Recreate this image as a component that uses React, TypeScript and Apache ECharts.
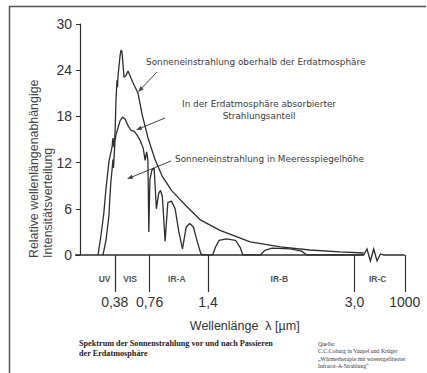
import React, { useEffect, useRef } from "react";
import * as echarts from "echarts";

// Extraterrestrial spectrum (oberhalb der Erdatmosphäre): wavelength [µm] / relative intensity
const topLambda = [0.197, 0.23, 0.26, 0.284, 0.317, 0.35, 0.36, 0.37, 0.383, 0.393, 0.404, 0.41, 0.415, 0.437, 0.448, 0.459, 0.481, 0.503, 0.525, 0.557, 0.59, 0.634, 0.68, 0.743, 0.82, 0.9, 1.0, 1.15, 1.31, 1.53, 1.86, 2.19, 2.51, 2.84, 3.1];
const topValues = [0, 2.6, 5.4, 8.6, 12.2, 14.0, 15.2, 14.0, 15.8, 20.0, 22.7, 21.8, 23.2, 25.8, 26.6, 26.4, 23.1, 23.3, 23.9, 23.0, 22.1, 21.0, 18.2, 15.2, 12.4, 10.2, 8.4, 6.5, 4.6, 3.2, 1.7, 1.05, 0.65, 0.4, 0.26];

// Sea-level spectrum (in Meeresspiegelhöhe)
const seaLambda = [0.251, 0.284, 0.317, 0.328, 0.339, 0.35, 0.36, 0.366, 0.383, 0.393, 0.415, 0.437, 0.464, 0.49, 0.525, 0.557, 0.59, 0.623, 0.656, 0.69, 0.712, 0.728, 0.742, 0.752, 0.764, 0.785, 0.81, 0.835, 0.86, 0.88, 0.9, 0.93, 0.96, 1.0, 1.04, 1.08, 1.12, 1.16, 1.2, 1.24, 1.28, 1.32, 1.34, 1.45, 1.48, 1.52, 1.6, 1.7, 1.75, 1.78, 1.97, 2.02, 2.1, 2.3, 2.42, 2.48, 3.1];
const seaValues = [0, 1.9, 5.2, 7.8, 9.7, 11.0, 12.4, 11.3, 14.9, 15.6, 16.5, 17.4, 17.9, 17.7, 16.8, 16.2, 16.1, 15.6, 14.9, 13.9, 12.3, 13.4, 12.4, 3.0, 9.8, 11.0, 11.3, 6.0, 8.0, 8.4, 7.6, 1.8, 6.8, 7.0, 6.0, 3.0, 0.8, 3.6, 4.1, 3.6, 1.8, 0.2, 0, 0, 1.0, 1.9, 2.1, 1.9, 1.0, 0, 0, 0.6, 0.9, 0.8, 0.5, 0, 0];

// X axis ticks (wavelength boundaries) and labels; last one sits after the axis break
const tickValues = [0.38, 0.76, 1.4, 3.0, 3.55];
const tickLabels = ["0,38", "0,76", "1,4", "3,0", "1000"];

// Spectral bands
const bandEdges = [0.2, 0.38, 0.76, 1.4, 3.0, 3.55];
const bandNames = ["UV", "VIS", "IR-A", "IR-B", "IR-C"];

// Y axis
const yMin = 0;
const yMax = 30;
const yInterval = 6;

const INK = "#2e2e2e";

function arrow(x1: number, y1: number, x2: number, y2: number) {
  const dx = x2 - x1;
  const dy = y2 - y1;
  const len = Math.sqrt(dx * dx + dy * dy);
  const ux = dx / len;
  const uy = dy / len;
  const nx = -uy;
  const ny = ux;
  const L = 6;
  const W = 2.2;
  return [
    {
      type: "line",
      shape: { x1, y1, x2: x2 - ux * 3, y2: y2 - uy * 3 },
      style: { stroke: "#444", lineWidth: 1 },
      silent: true,
    },
    {
      type: "polygon",
      shape: {
        points: [
          [x2, y2],
          [x2 - ux * L + nx * W, y2 - uy * L + ny * W],
          [x2 - ux * L - nx * W, y2 - uy * L - ny * W],
        ],
      },
      style: { fill: "#444" },
      silent: true,
    },
  ];
}

export default function App() {
  const ref = useRef<HTMLDivElement>(null);

  useEffect(() => {
    if (!ref.current) return;
    const chart = echarts.init(ref.current, undefined, { renderer: "svg" });

    const topData = topLambda.map((l, i) => [l, topValues[i]]);
    const seaData = seaLambda.map((l, i) => [l, seaValues[i]]);

    const labelFor = (v: number) => {
      let best = 0;
      for (let i = 1; i < tickValues.length; i++) {
        if (Math.abs(tickValues[i] - v) < Math.abs(tickValues[best] - v)) best = i;
      }
      return tickLabels[best];
    };

    const sans = "'Liberation Sans', Arial, sans-serif";
    const wide = "'DejaVu Sans', Verdana, sans-serif";
    const serif = "'Liberation Serif', 'Times New Roman', serif";

    chart.setOption({
      animation: false,
      backgroundColor: "#ffffff",
      grid: { left: 80, top: 24, right: 17.6, bottom: 118, containLabel: false },
      xAxis: {
        type: "value",
        min: 0,
        max: 3.6,
        axisLine: { show: false },
        splitLine: { show: false },
        axisTick: {
          show: true,
          customValues: tickValues,
          length: 37,
          lineStyle: { color: INK, width: 1.2 },
        },
        axisLabel: {
          show: true,
          customValues: tickValues,
          formatter: (v: number) => labelFor(v),
          margin: 40,
          fontSize: 14,
          color: "#333",
          fontFamily: sans,
        },
        name: "Wellenlänge  λ [µm]",
        nameLocation: "middle",
        nameGap: 64,
        nameTextStyle: { fontSize: 12.5, color: "#333", fontFamily: sans },
      },
      yAxis: {
        type: "value",
        min: yMin,
        max: yMax,
        interval: yInterval,
        axisLine: { show: true, lineStyle: { color: INK, width: 1.2 } },
        axisTick: { show: true, length: 4, lineStyle: { color: INK, width: 1 } },
        axisLabel: {
          margin: 8,
          fontSize: 14,
          color: "#333",
          fontFamily: sans,
        },
        splitLine: { show: false },
      },
      series: [
        {
          name: "Sonneneinstrahlung oberhalb der Erdatmosphäre",
          type: "line",
          data: topData,
          showSymbol: false,
          smooth: false,
          lineStyle: { color: INK, width: 1.3 },
          z: 3,
        },
        {
          name: "Sonneneinstrahlung in Meeresspiegelhöhe",
          type: "line",
          data: seaData,
          showSymbol: false,
          smooth: false,
          lineStyle: { color: INK, width: 1.3 },
          z: 3,
        },
      ],
    });

    const px = (l: number, v: number) => chart.convertToPixel({ gridIndex: 0 }, [l, v]) as number[];

    const base = px(0, 0);
    const breakStart = px(3.1, 0);
    const breakEnd = px(3.32, 0);
    const lastTick = px(tickValues[tickValues.length - 1], 0);
    const by = base[1];
    const zw = (breakEnd[0] - breakStart[0]) / 6;
    const zig = [
      [base[0] - 5, by],
      [breakStart[0], by],
      [breakStart[0] + zw, by - 6],
      [breakStart[0] + 2 * zw, by + 6],
      [breakStart[0] + 3 * zw, by - 6],
      [breakStart[0] + 4 * zw, by + 6],
      [breakStart[0] + 5 * zw, by - 1],
      [breakEnd[0], by],
      [lastTick[0], by],
    ];

    const bandTexts = bandNames.map((name, i) => {
      const c = px((bandEdges[i] + bandEdges[i + 1]) / 2, 0);
      return {
        type: "text",
        x: c[0] - 2,
        y: by + 24,
        style: {
          text: name,
          fill: "#555",
          font: `bold 8.5px ${sans}`,
          textAlign: "center",
          textVerticalAlign: "middle",
        },
        silent: true,
      };
    });

    chart.setOption({
      graphic: [
        // frame
        { type: "line", shape: { x1: 9.5, y1: 6, x2: 9.5, y2: 373 }, style: { stroke: "#555", lineWidth: 1.5 }, silent: true },
        { type: "line", shape: { x1: 9, y1: 6.5, x2: 426, y2: 6.5 }, style: { stroke: "#555", lineWidth: 1.5 }, silent: true },
        // baseline with axis break
        { type: "polyline", shape: { points: zig }, style: { stroke: INK, lineWidth: 1.3, fill: null }, silent: true },
        ...bandTexts,
        // y axis title
        {
          type: "text",
          x: 41,
          y: 258,
          rotation: Math.PI / 2,
          style: {
            text: "Relative wellenlängenabhängige\nIntensitätsverteilung",
            font: `12.4px ${sans}`,
            fill: "#444",
            textAlign: "left",
            textVerticalAlign: "middle",
            lineHeight: 14,
          },
          silent: true,
        },
        // annotations
        {
          type: "text",
          x: 146,
          y: 62,
          style: { text: "Sonneneinstrahlung oberhalb der Erdatmosphäre", font: `8.9px ${wide}`, fill: "#3a3a3a", textAlign: "left", textVerticalAlign: "middle" },
          silent: true,
        },
        {
          type: "text",
          x: 259,
          y: 110,
          style: { text: "In der Erdatmosphäre absorbierter\nStrahlungsanteil", font: `8.9px ${wide}`, fill: "#3a3a3a", textAlign: "center", textVerticalAlign: "middle", lineHeight: 12 },
          silent: true,
        },
        {
          type: "text",
          x: 175,
          y: 159,
          style: { text: "Sonneneinstrahlung in Meeresspiegelhöhe", font: `8.9px ${wide}`, fill: "#3a3a3a", textAlign: "left", textVerticalAlign: "middle" },
          silent: true,
        },
        ...arrow(157, 72, 138, 92),
        ...arrow(165, 118, 136, 130),
        ...arrow(171, 161, 127, 179),
        // caption
        {
          type: "text",
          x: 79,
          y: 348,
          style: { text: "Spektrum der Sonnenstrahlung vor und nach Passieren\nder Erdatmosphäre", font: `bold 8.2px ${serif}`, fill: "#222", textAlign: "left", textVerticalAlign: "middle", lineHeight: 10 },
          silent: true,
        },
        {
          type: "text",
          x: 318,
          y: 355,
          style: {
            text: "Quelle:\nC.C.Coburg in Vaupel und Krüger\n„Wärmetherapie mit wassergefilterter\nInfrarot-A-Strahlung“",
            font: `5.8px ${serif}`,
            fill: "#333",
            textAlign: "left",
            textVerticalAlign: "middle",
            lineHeight: 7.4,
          },
          silent: true,
        },
      ],
    });

    return () => {
      chart.dispose();
    };
  }, []);

  return (
    <div
      ref={ref}
      style={{ position: "fixed", left: 0, top: 0, width: 427, height: 373, background: "#fff" }}
    />
  );
}
